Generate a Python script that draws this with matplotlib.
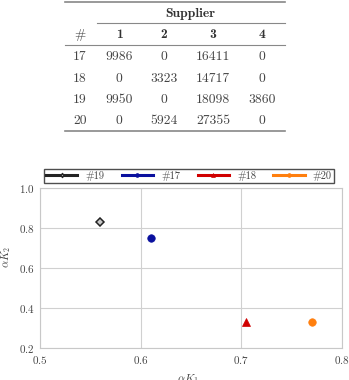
import numpy as np
import matplotlib.pyplot as plt

plt.rcParams['font.family'] = ['cmr10', 'DejaVu Serif']
plt.rcParams['mathtext.fontset'] = 'cm'
plt.rcParams['axes.formatter.use_mathtext'] = True

# table data
row_ids = ['17', '18', '19', '20']
supplier_cols = ['1', '2', '3', '4']
table_vals = [[9986, 0, 16411, 0],
              [0, 3323, 14717, 0],
              [9950, 0, 18098, 3860],
              [0, 5924, 27355, 0]]

# scatter data
labels = ['#19', '#17', '#18', '#20']
k1 = [0.56, 0.61, 0.705, 0.77]
k2 = [0.83, 0.75, 0.33, 0.33]
colors = ['#222222', '#0a109e', '#d00000', '#ff7f0e']
face = ['#c8c8c8', '#0a109e', '#d00000', '#ff7f0e']
markers = ['D', 'o', '^', 'o']
msizes = [3.6, 5.4, 5.6, 5.4]

fig = plt.figure(figsize=(3.49, 3.8), dpi=100)

# --- table drawn in pixel coords ---
tax = fig.add_axes([0, 0, 1, 1])
tax.set_xlim(0, 349)
tax.set_ylim(380, 0)
tax.axis('off')

col_x = [80, 119, 164, 213, 262]
fs = 9.8
tcol = '#444444'
tax.plot([65, 285], [2, 2], color='#888888', lw=1.2)
tax.text(190, 14, 'Supplier', ha='center', va='center', fontsize=fs,
         family='cmb10', color='#333333')
tax.plot([97, 285], [23, 23], color='#888888', lw=0.8)
tax.text(col_x[0], 35, '#', ha='center', va='center', fontsize=fs, color=tcol)
for x, c in zip(col_x[1:], supplier_cols):
    tax.text(x, 35, c, ha='center', va='center', fontsize=fs, family='cmb10',
             color='#333333')
tax.plot([65, 285], [45, 45], color='#888888', lw=0.8)
row_y = [57, 79, 100, 121]
for y, rid, vals in zip(row_y, row_ids, table_vals):
    tax.text(col_x[0], y, rid, ha='center', va='center', fontsize=fs, color=tcol)
    for x, v in zip(col_x[1:], vals):
        tax.text(x, y, str(v), ha='center', va='center', fontsize=fs, color=tcol)
tax.plot([65, 285], [131, 131], color='#888888', lw=1.2)

# --- scatter plot ---
ax = fig.add_axes([40 / 349, 32 / 380, 302 / 349, 160 / 380])
for i in range(len(labels)):
    ax.plot([k1[i]], [k2[i]], linestyle='-', lw=2.2, color=colors[i],
            marker=markers[i], markersize=msizes[i], markerfacecolor=face[i],
            markeredgecolor=colors[i], markeredgewidth=1.1 if i == 0 else 0.5,
            label=labels[i])

ax.set_xlim(0.5, 0.8)
ax.set_ylim(0.2, 1.0)
ax.set_xticks([0.5, 0.6, 0.7, 0.8])
ax.set_yticks([0.2, 0.4, 0.6, 0.8, 1.0])
ax.grid(True, color='#d0d0d0', lw=0.8)
ax.set_axisbelow(True)
for s in ax.spines.values():
    s.set_color('#c8c8c8')
ax.tick_params(length=0, labelsize=8, pad=4, colors='#444444')
ax.set_xlabel(r'$\alpha K_1$', fontsize=8, color='#444444')
ax.set_ylabel(r'$\alpha K_2$', fontsize=8, color='#444444')
ax.xaxis.set_label_coords(0.49, -0.15)
ax.yaxis.set_label_coords(-0.088, 0.57)

leg = ax.legend(loc='lower left', bbox_to_anchor=(4 / 302, 1.03, 290 / 302, 0.11),
                mode='expand', ncol=4, fontsize=7.5, frameon=True, fancybox=False,
                handlelength=3.0, borderpad=0.2, markerscale=0.5, borderaxespad=0)
leg.get_frame().set_edgecolor('#222222')
leg.get_frame().set_linewidth(1.0)
for t in leg.get_texts():
    t.set_color('#444444')

fig.savefig('out.png', dpi=100)
